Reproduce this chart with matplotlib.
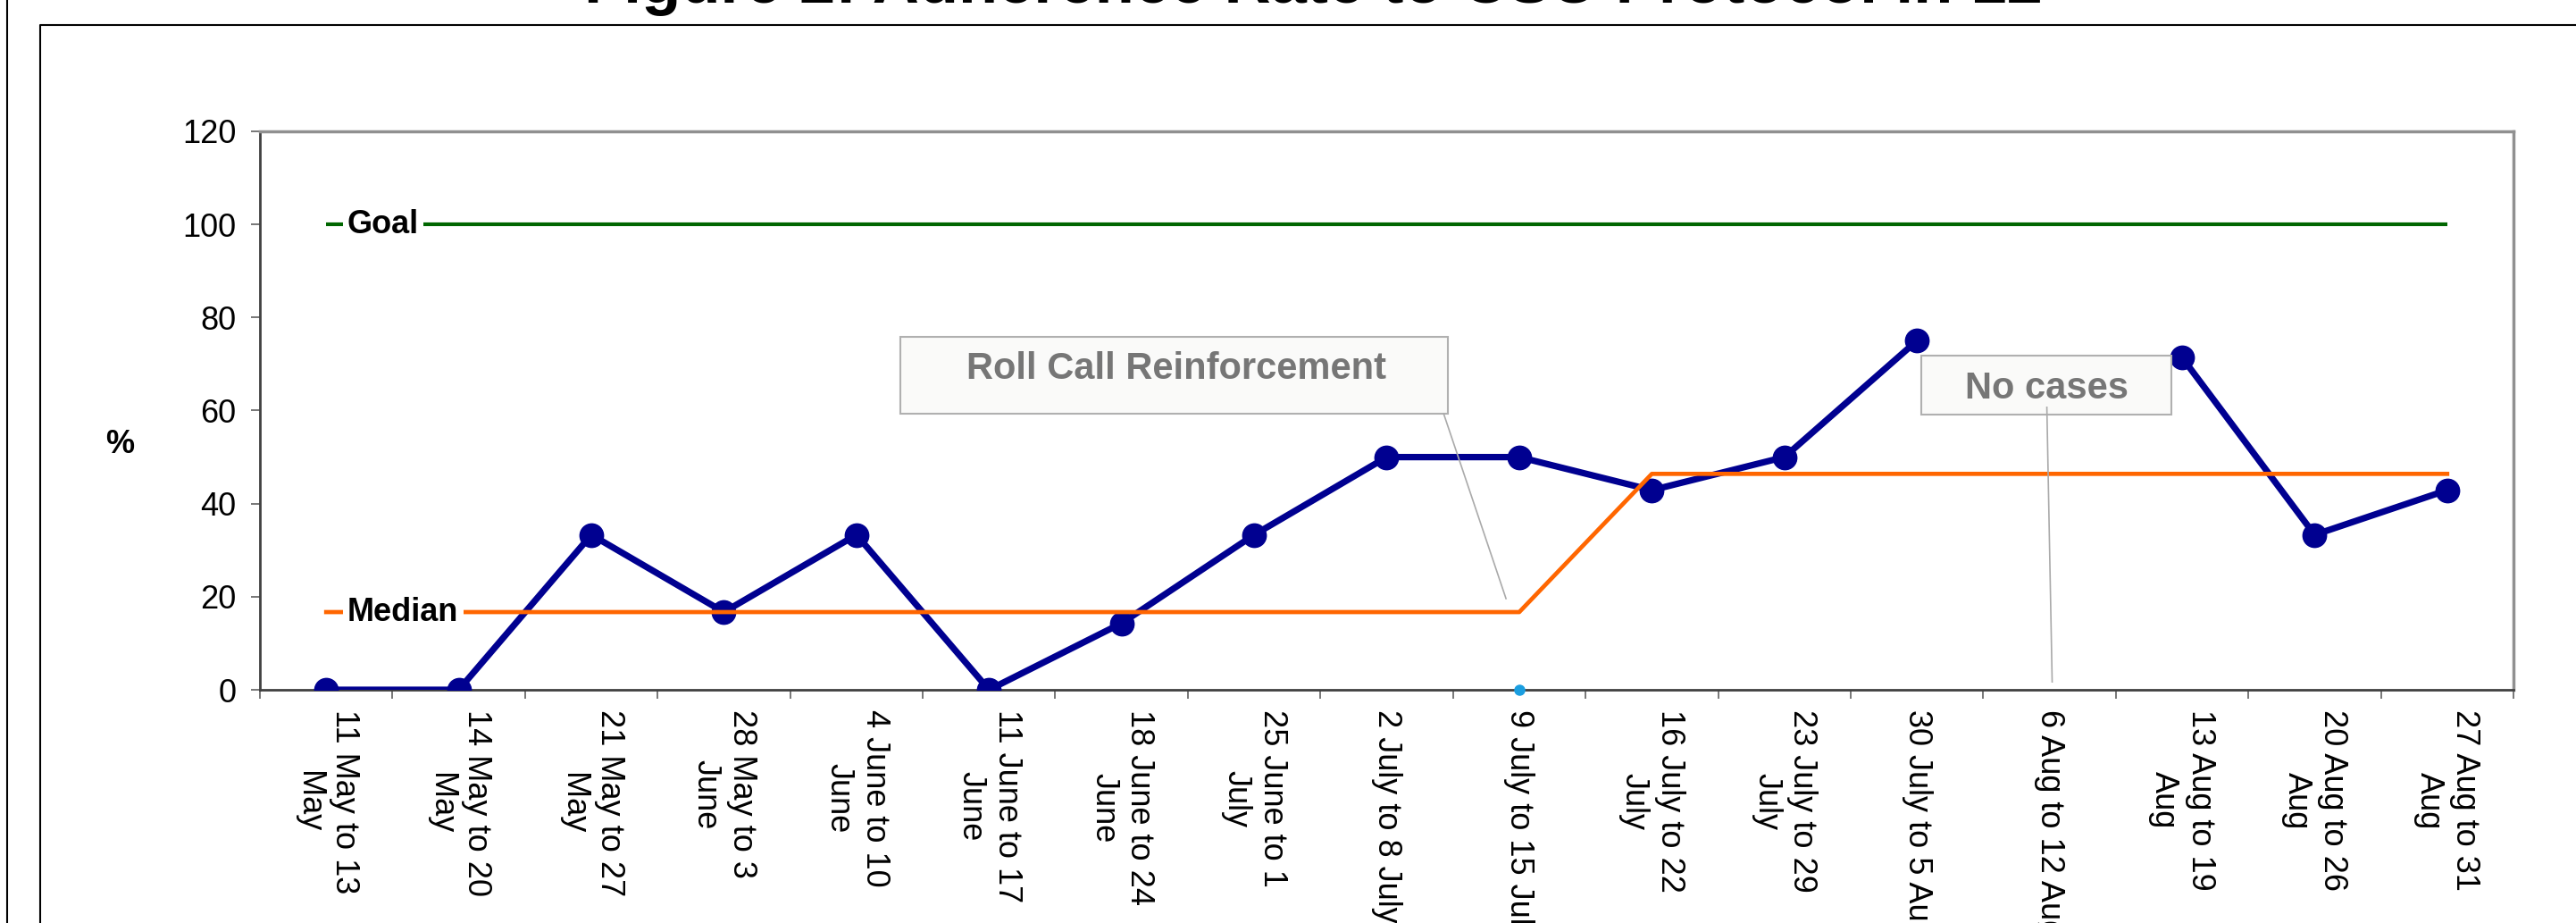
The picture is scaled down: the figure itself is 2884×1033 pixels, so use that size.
import numpy as np
import matplotlib
matplotlib.use("Agg")
import matplotlib.pyplot as plt
from matplotlib.lines import Line2D
from matplotlib.patches import Rectangle

plt.rcParams["font.family"] = ["Liberation Sans", "DejaVu Sans"]

# data
weeks = [
    "11 May to 13\nMay", "14 May to 20\nMay", "21 May to 27\nMay", "28 May to 3\nJune",
    "4 June to 10\nJune", "11 June to 17\nJune", "18 June to 24\nJune", "25 June to 1\nJuly",
    "2 July to 8 July", "9 July to 15 July", "16 July to 22\nJuly", "23 July to 29\nJuly",
    "30 July to 5 Aug", "6 Aug to 12 Aug", "13 Aug to 19\nAug", "20 Aug to 26\nAug",
    "27 Aug to 31\nAug",
]
adherence = [0, 0, 33.3, 16.7, 33.3, 0, 14.3, 33.3, 50, 50, 42.9, 50, 75, np.nan, 71.4, 33.3, 42.9]
median = [16.7, 16.7, 16.7, 16.7, 16.7, 16.7, 16.7, 16.7, 16.7, 16.7,
          46.4, 46.4, 46.4, 46.4, 46.4, 46.4, 46.4]
goal = [100] * 17
intervention_week = [9]
intervention_val = [0]

yticks = [0, 20, 40, 60, 80, 100, 120]

# callouts: (text, box x0, x1, y0, y1, text x, text y, leader start, leader end)
callouts = [
    ("Roll Call Reinforcement", 4.33, 8.46, 59.3, 75.8, 6.41, 68.9, (8.43, 59.3), (8.9, 19.6)),
    ("No cases", 12.03, 13.92, 59.1, 71.8, 12.98, 64.7, (12.98, 60.7), (13.02, 1.7)),
]

W, H = 2884, 1033
fig = plt.figure(figsize=(W / 100, H / 100), dpi=100)
ax = fig.add_axes([291 / W, 261 / H, (2814 - 291) / W, (772 - 147) / H])

x = np.arange(len(weeks))

ax.plot(x, goal, color="#006600", lw=3, zorder=3, solid_capstyle="butt")
ax.plot(x, adherence, color="#000090", lw=5.2, marker="o", ms=19, zorder=4)
ax.plot(x, median, color="#FF6600", lw=3.4, zorder=5)
ax.plot(intervention_week, intervention_val, "o", color="#1a9ee0", ms=8, zorder=6, clip_on=False)

lbl = dict(fontsize=26, fontweight="bold", ha="left", va="center", zorder=7,
           bbox=dict(boxstyle="square,pad=0.15", fc="white", ec="none"))
ax.text(0.16, goal[0], "Goal", **lbl)
ax.text(0.16, median[0], "Median", **lbl)

for txt, x0, x1, y0, y1, tx, ty, p0, p1 in callouts:
    ax.add_patch(Rectangle((x0, y0), x1 - x0, y1 - y0, fc="#fafaf9", ec="#b0b0b0", lw=1.5, zorder=8))
    ax.text(tx, ty, txt, fontsize=30, fontweight="bold", color="#767676",
            ha="center", va="center", zorder=9)
    ax.plot([p0[0], p1[0]], [p0[1], p1[1]], color="#aaaaaa", lw=1.2, zorder=8)

ax.set_xlim(-0.5, len(weeks) - 0.5)
ax.set_ylim(0, 120)
ax.set_yticks(yticks)
ax.set_xticks(np.arange(-0.5, len(weeks)), labels=[])
ax.set_xticks(x, labels=weeks, minor=True)
ax.tick_params(axis="x", which="minor", length=0, labelsize=26, pad=16, labelrotation=-90)
ax.tick_params(axis="x", which="major", length=7, width=1.2, color="#606060", direction="out")
ax.tick_params(axis="y", length=7, width=1.2, color="#606060", labelsize=26, pad=12)

for s in ["left", "bottom"]:
    ax.spines[s].set_color("#404040")
    ax.spines[s].set_linewidth(2)
for s in ["top", "right"]:
    ax.spines[s].set_color("#909090")
    ax.spines[s].set_linewidth(2.5)

fig.text(134 / W, 1 - 497 / H, "%", fontsize=26, fontweight="bold", ha="center", va="center")

# title sits mostly above the visible area, as in the source image
fig.text(0.51, 1 - 3 / H, "Figure 2: Adherence Rate to CSU Protocol in 12",
         fontsize=52, fontweight="bold", ha="center", va="baseline")

# outer frame lines
fig.add_artist(Line2D([8 / W, 8 / W], [0, 1], transform=fig.transFigure, color="black", lw=1.5))
fig.add_artist(Line2D([45 / W, 45 / W, 1], [0, 1 - 28 / H, 1 - 28 / H],
                      transform=fig.transFigure, color="black", lw=1.5))

fig.savefig("out.png", dpi=100, facecolor="white")
